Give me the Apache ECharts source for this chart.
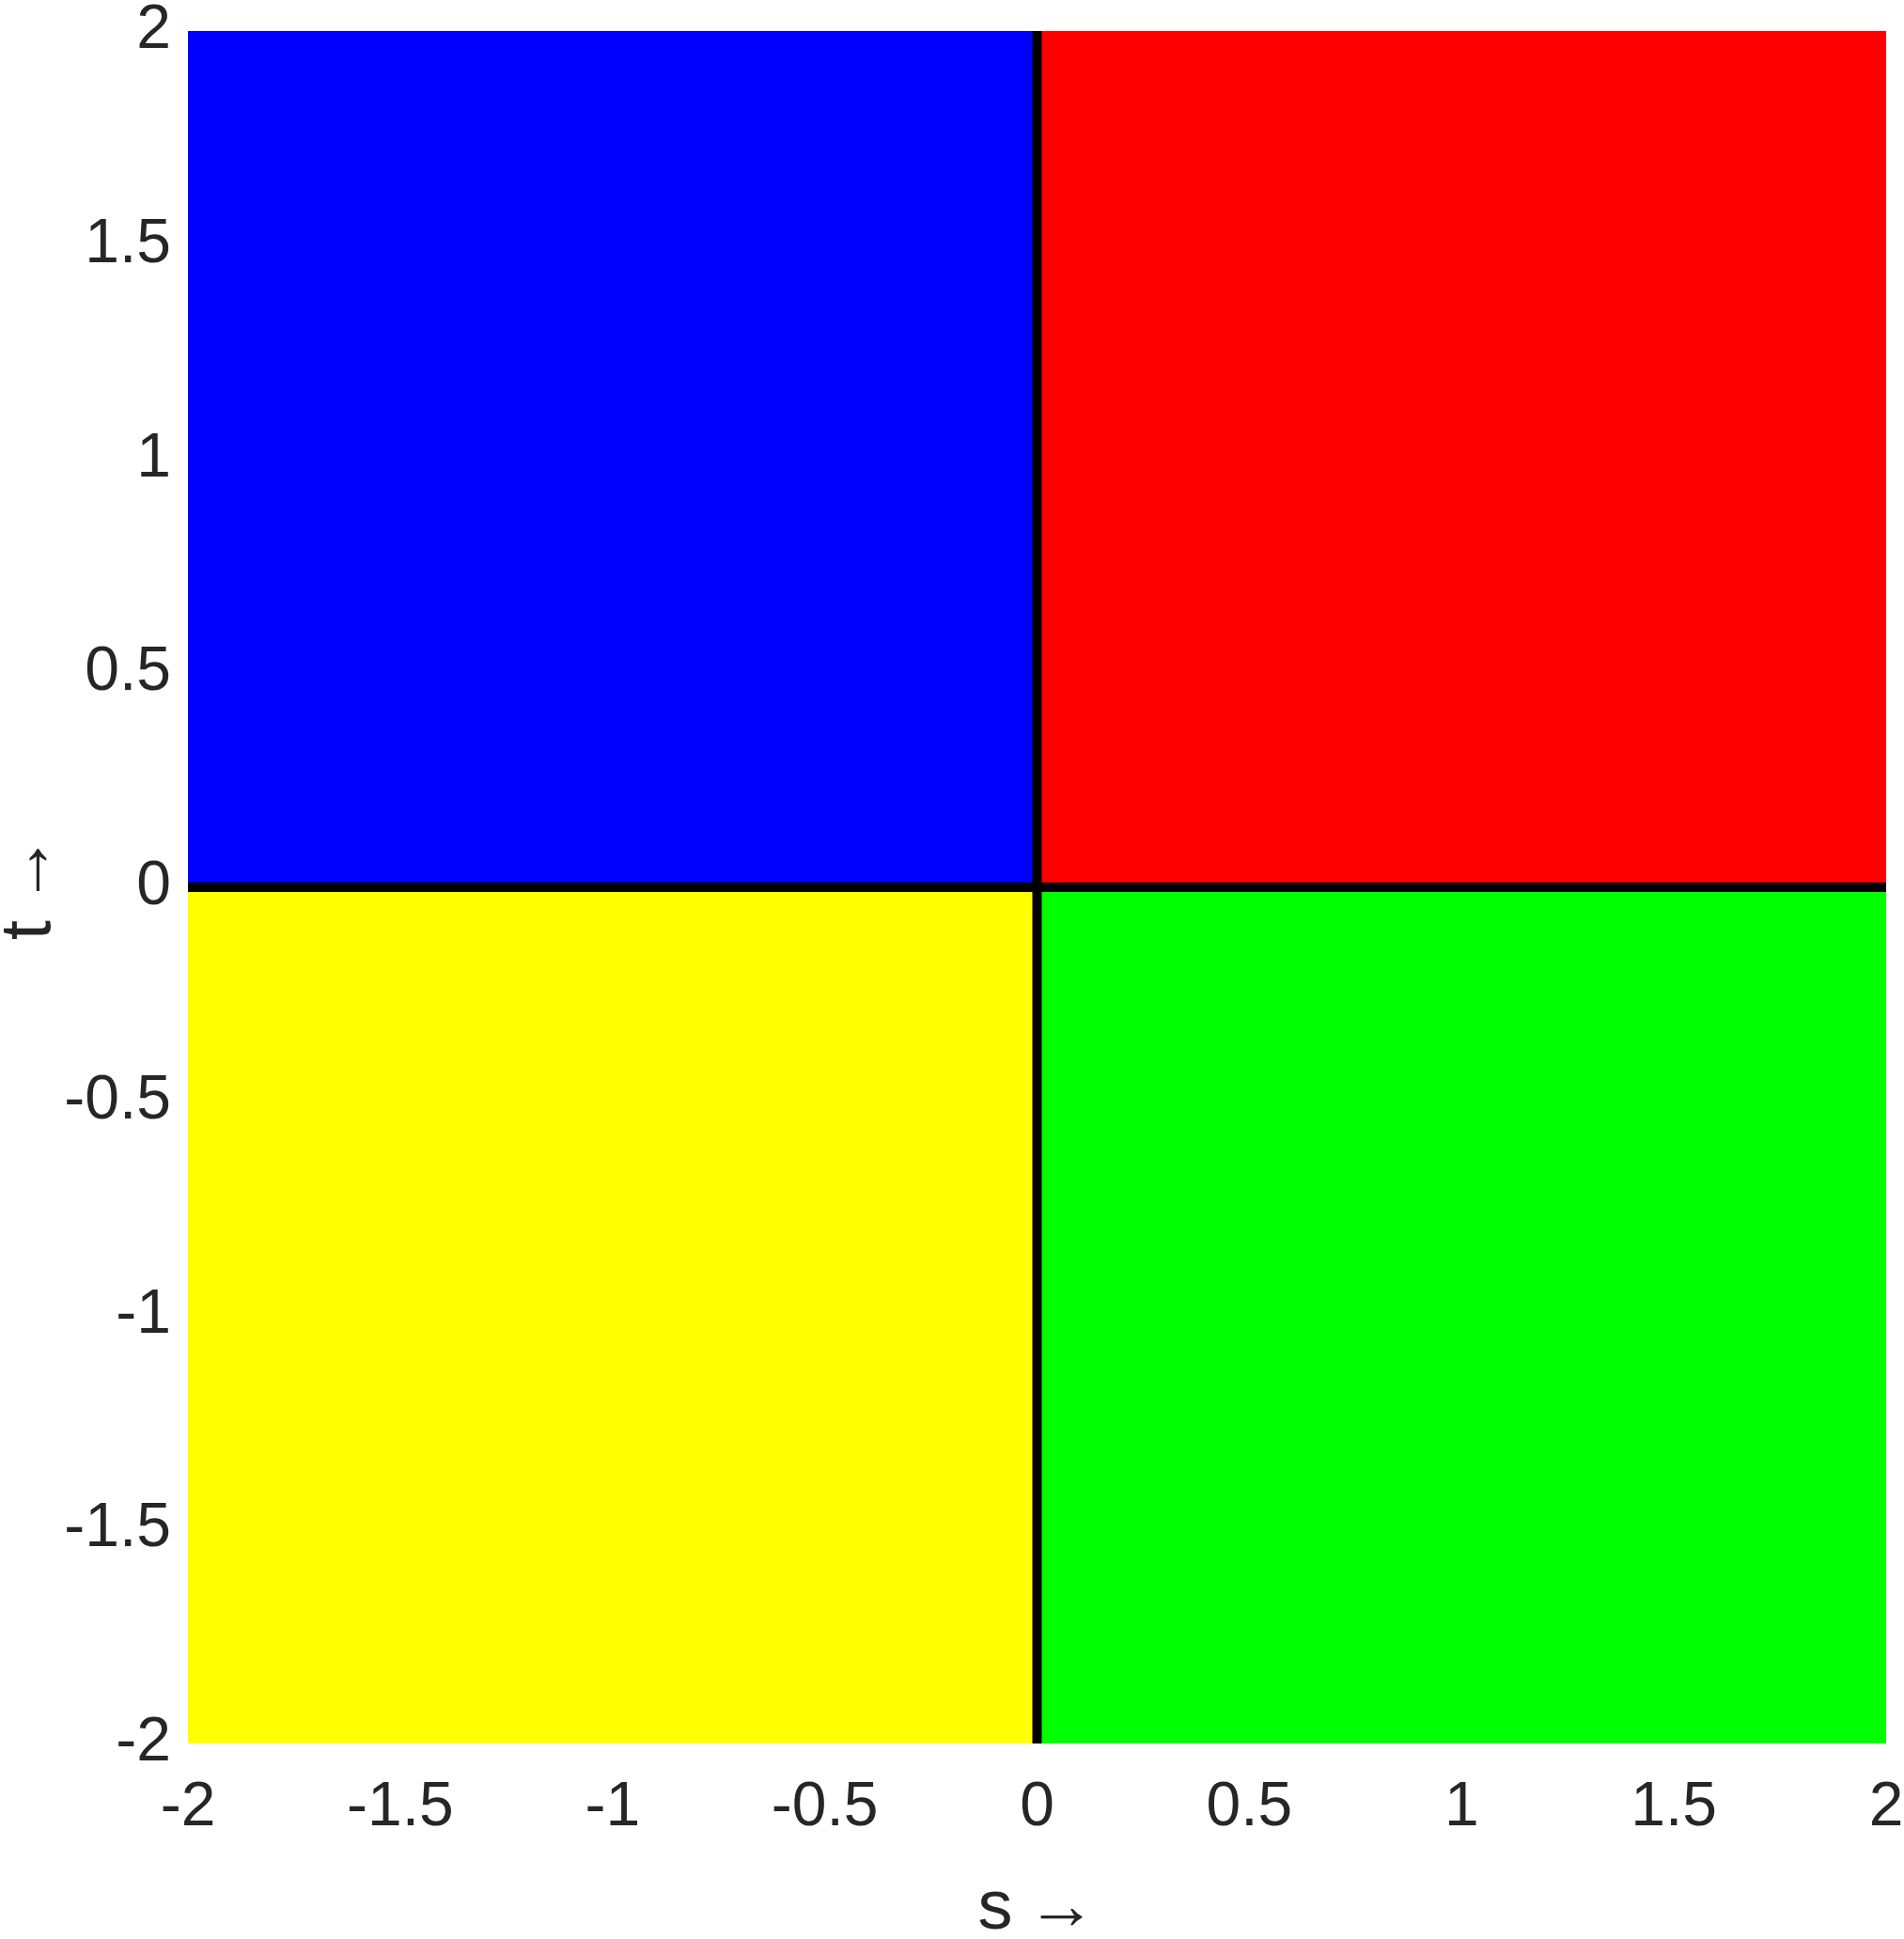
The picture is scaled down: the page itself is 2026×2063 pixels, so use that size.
<!DOCTYPE html>
<html>
<head>
<meta charset="utf-8">
<script src="https://cdn.jsdelivr.net/npm/echarts@6/dist/echarts.min.js"></script>
<style>
html,body{margin:0;padding:0;background:#fff;}
#chart{width:2026px;height:2063px;}
</style>
</head>
<body>
<div id="chart"></div>
<script>
// Quadrant regions: [sMin, sMax, tMin, tMax]
const quadrantNames = ['s<0,t>0', 's>0,t>0', 's<0,t<0', 's>0,t<0'];
const quadrantBounds = [
  [-2, 0, 0, 2],
  [0, 2, 0, 2],
  [-2, 0, -2, 0],
  [0, 2, -2, 0]
];
const quadrantColors = ['#0000FF', '#FF0000', '#FFFF00', '#00FF00'];
// Dividing lines
const verticalLine = [[0, -2], [0, 2]];
const horizontalLine = [[-2, 0], [2, 0]];
const tickValues = [-2, -1.5, -1, -0.5, 0, 0.5, 1, 1.5, 2];

const FONT = "'Liberation Sans Narrow', 'Liberation Sans', Arial, sans-serif";
const TXT = '#262626';

const chart = echarts.init(document.getElementById('chart'), null, {renderer: 'canvas'});

const rectData = quadrantBounds.map((b, i) => ({
  value: b,
  itemStyle: {color: quadrantColors[i]},
  name: quadrantNames[i]
}));

chart.setOption({
  backgroundColor: '#ffffff',
  animation: false,
  grid: {left: 200, top: 33, right: 19, bottom: 208, containLabel: false, outerBoundsMode: 'none'},
  xAxis: {
    type: 'value', min: -2, max: 2, interval: 0.5,
    name: 's\u2009\u2192', nameLocation: 'middle', nameGap: 140,
    nameTextStyle: {fontFamily: FONT, fontSize: 74, color: TXT},
    axisLine: {show: false}, axisTick: {show: false}, splitLine: {show: false},
    axisLabel: {fontFamily: FONT, fontSize: 66, color: TXT, margin: 36,
      formatter: v => String(v)}
  },
  yAxis: {
    type: 'value', min: -2, max: 2, interval: 0.5,
    name: 't\u2009\u2192', nameLocation: 'middle', nameGap: 130, nameRotate: 90,
    nameMoveOverlap: false,
    nameTextStyle: {fontFamily: FONT, fontSize: 76, color: TXT},
    axisLine: {show: false}, axisTick: {show: false}, splitLine: {show: false},
    axisLabel: {fontFamily: FONT, fontSize: 66, color: TXT, margin: 18,
      formatter: v => String(v)}
  },
  series: [
    {
      type: 'custom',
      data: rectData,
      encode: {x: [0, 1], y: [2, 3]},
      renderItem: function (params, api) {
        const p0 = api.coord([api.value(0), api.value(3)]);
        const p1 = api.coord([api.value(1), api.value(2)]);
        return {
          type: 'rect',
          shape: {x: p0[0], y: p0[1], width: p1[0] - p0[0], height: p1[1] - p0[1]},
          style: {fill: api.visual('color')}
        };
      },
      z: 1
    },
    {
      type: 'line', data: verticalLine, symbol: 'none',
      lineStyle: {color: '#000', width: 10}, z: 3
    },
    {
      type: 'line', data: horizontalLine, symbol: 'none',
      lineStyle: {color: '#000', width: 10}, z: 3
    }
  ]
});
</script>
</body>
</html>
